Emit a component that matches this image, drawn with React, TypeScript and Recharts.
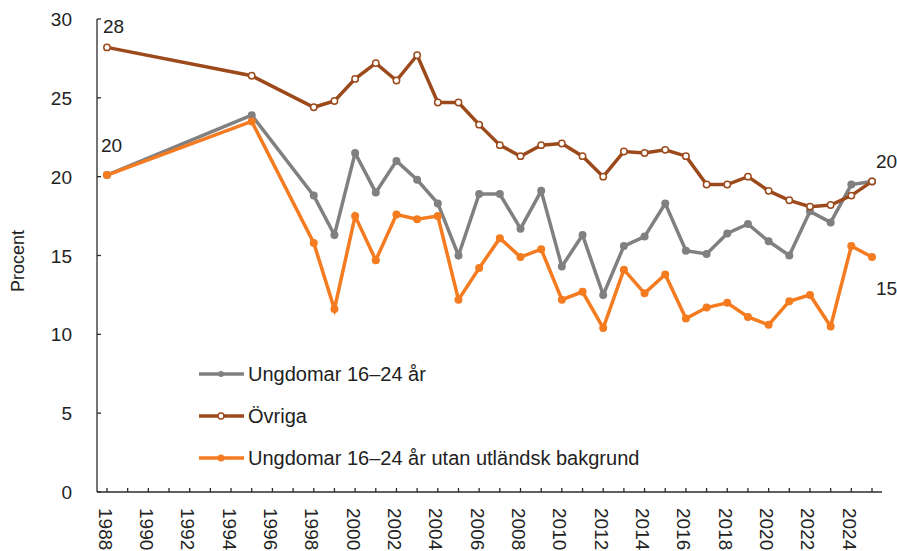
import React from 'react'
import { LineChart, Line, XAxis, YAxis, Legend, LabelList } from 'recharts'

document.body.style.margin = '0'

const years = [
  '1988', '1989', '1990', '1991', '1992', '1993', '1994', '1995', '1996', '1997',
  '1998', '1999', '2000', '2001', '2002', '2003', '2004', '2005', '2006', '2007',
  '2008', '2009', '2010', '2011', '2012', '2013', '2014', '2015', '2016', '2017',
  '2018', '2019', '2020', '2021', '2022', '2023', '2024', '2025',
]

// null = no survey that year
const ungdomar = [
  20.1, null, null, null, null, null, null, 23.9, null, null,
  18.8, 16.3, 21.5, 19.0, 21.0, 19.8, 18.3, 15.0, 18.9, 18.9,
  16.7, 19.1, 14.3, 16.3, 12.5, 15.6, 16.2, 18.3, 15.3, 15.1,
  16.4, 17.0, 15.9, 15.0, 17.8, 17.1, 19.5, 19.7,
]

const ovriga = [
  28.2, null, null, null, null, null, null, 26.4, null, null,
  24.4, 24.8, 26.2, 27.2, 26.1, 27.7, 24.7, 24.7, 23.3, 22.0,
  21.3, 22.0, 22.1, 21.3, 20.0, 21.6, 21.5, 21.7, 21.3, 19.5,
  19.5, 20.0, 19.1, 18.5, 18.1, 18.2, 18.8, 19.7,
]

const utanBakgrund = [
  20.1, null, null, null, null, null, null, 23.5, null, null,
  15.8, 11.6, 17.5, 14.7, 17.6, 17.3, 17.5, 12.2, 14.2, 16.1,
  14.9, 15.4, 12.2, 12.7, 10.4, 14.1, 12.6, 13.8, 11.0, 11.7,
  12.0, 11.1, 10.6, 12.1, 12.5, 10.5, 15.6, 14.9,
]

const yTicks = [0, 5, 10, 15, 20, 25, 30]

const GREY = '#808080'
const BROWN = '#9c4a1c'
const ORANGE = '#f47b20'
const AXIS = '#2b2b2b'
const FONT = '"Liberation Sans", Arial, sans-serif'

const data = years.map((year, i) => ({
  year,
  ungdomar: ungdomar[i],
  ovriga: ovriga[i],
  utan: utanBakgrund[i],
}))
const last = years.length - 1

const legendItems = [
  { name: 'Ungdomar 16–24 år', color: GREY, open: false, r: 3 },
  { name: 'Övriga', color: BROWN, open: true, r: 3 },
  { name: 'Ungdomar 16–24 år utan utländsk bakgrund', color: ORANGE, open: false, r: 3.5 },
]

const XTick = (props: any) => {
  const { x, y, payload } = props
  const show = Number(payload.value) % 2 === 0
  return (
    <g>
      <line x1={x} y1={y} x2={x} y2={y - 4} stroke={AXIS} strokeWidth={1.3} />
      {show && (
        <text
          x={x}
          y={y + 16}
          dy={8.5}
          transform={`rotate(90, ${x}, ${y + 16})`}
          fontSize={19}
          fill="#222"
          textAnchor="start"
        >
          {payload.value}
        </text>
      )}
    </g>
  )
}

const YTick = (props: any) => {
  const { x, y, payload } = props
  return (
    <g>
      <line x1={x} y1={y} x2={x + 4} y2={y} stroke={AXIS} strokeWidth={1.3} />
      <text x={x - 25} y={y} dy={7} textAnchor="end" fontSize={19} fill="#222">
        {payload.value}
      </text>
    </g>
  )
}

const endLabel = (which: string) => (p: any) => {
  const { x, y, value, index } = p
  if (value == null) return null
  let dx = 0
  let dy = 0
  if (which === 'ovriga' && index === 0) { dx = -4; dy = -14 }
  else if (which === 'ovriga' && index === last) { dx = 4; dy = -13 }
  else if (which === 'ungdomar' && index === 0) { dx = -6; dy = -23 }
  else if (which === 'utan' && index === last) { dx = 4; dy = 38 }
  else return null
  return (
    <text key={`${which}-${index}`} x={x + dx} y={y + dy} fontSize={19} fill="#222">
      {Math.round(value)}
    </text>
  )
}

const LegendBox = () => (
  <div style={{ fontFamily: FONT, fontSize: 20, color: '#222' }}>
    {legendItems.map((item) => (
      <div key={item.name} style={{ height: 42, display: 'flex', alignItems: 'center' }}>
        <svg width={46} height={12} style={{ display: 'block' }}>
          <line x1={0} y1={6} x2={45} y2={6} stroke={item.color} strokeWidth={3.5} />
          <circle
            cx={22}
            cy={6}
            r={item.r}
            fill={item.open ? '#fff' : item.color}
            stroke={item.color}
            strokeWidth={item.open ? 1.5 : 0}
          />
        </svg>
        <span style={{ marginLeft: 3, whiteSpace: 'nowrap' }}>{item.name}</span>
      </div>
    ))}
  </div>
)

export default function App() {
  return (
    <div style={{ width: 897, height: 551, background: '#fff', fontFamily: FONT }}>
      <LineChart
        width={897}
        height={551}
        data={data}
        margin={{ top: 19, right: 15, bottom: 0, left: 37 }}
        style={{ fontFamily: FONT }}
      >
        <XAxis
          dataKey="year"
          interval={0}
          height={59}
          padding={{ left: 10, right: 10 }}
          tickLine={false}
          tickSize={0}
          tickMargin={0}
          axisLine={{ stroke: AXIS, strokeWidth: 1.3 }}
          tick={<XTick />}
        />
        <YAxis
          domain={[0, 30]}
          ticks={yTicks}
          width={60}
          tickLine={false}
          tickSize={0}
          tickMargin={0}
          axisLine={{ stroke: AXIS, strokeWidth: 1.3 }}
          tick={<YTick />}
          label={{
            content: () => (
              <text
                x={24}
                y={261}
                transform="rotate(-90, 24, 261)"
                textAnchor="middle"
                fontSize={18}
                fill="#222"
              >
                Procent
              </text>
            ),
          }}
        />
        <Legend
          layout="vertical"
          align="center"
          verticalAlign="middle"
          wrapperStyle={{ left: 199, top: 353, width: 480 }}
          content={() => <LegendBox />}
        />
        <Line
          type="linear"
          dataKey="ungdomar"
          name="Ungdomar 16–24 år"
          stroke={GREY}
          strokeWidth={3.5}
          dot={{ r: 4, fill: GREY, stroke: GREY, strokeWidth: 0 }}
          activeDot={false}
          connectNulls
          isAnimationActive={false}
        >
          <LabelList dataKey="ungdomar" content={endLabel('ungdomar')} />
        </Line>
        <Line
          type="linear"
          dataKey="ovriga"
          name="Övriga"
          stroke={BROWN}
          strokeWidth={3.5}
          dot={{ r: 3.2, fill: '#fff', stroke: BROWN, strokeWidth: 1.5 }}
          activeDot={false}
          connectNulls
          isAnimationActive={false}
        >
          <LabelList dataKey="ovriga" content={endLabel('ovriga')} />
        </Line>
        <Line
          type="linear"
          dataKey="utan"
          name="Ungdomar 16–24 år utan utländsk bakgrund"
          stroke={ORANGE}
          strokeWidth={3.5}
          dot={{ r: 4, fill: ORANGE, stroke: ORANGE, strokeWidth: 0 }}
          activeDot={false}
          connectNulls
          isAnimationActive={false}
        >
          <LabelList dataKey="utan" content={endLabel('utan')} />
        </Line>
      </LineChart>
    </div>
  )
}
